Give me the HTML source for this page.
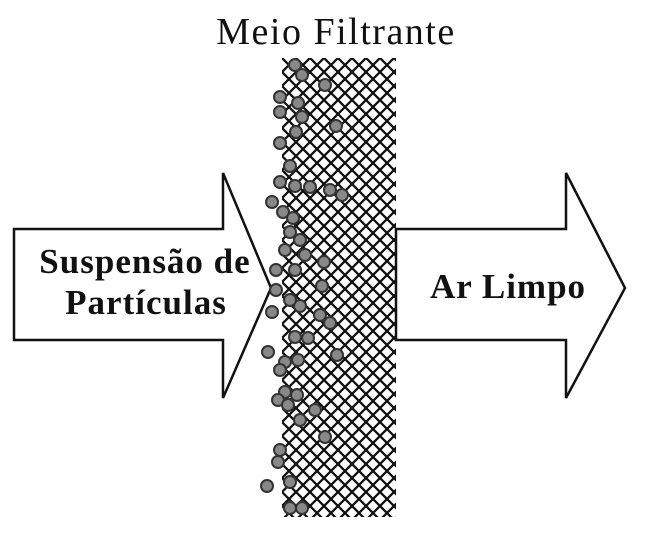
<!DOCTYPE html>
<html><head><meta charset="utf-8"><style>
html,body{margin:0;padding:0;background:#fff;}
svg{display:block;}
</style></head><body>
<svg width="646" height="536" viewBox="0 0 646 536" xmlns="http://www.w3.org/2000/svg">
<defs>
<pattern id="mesh" width="14" height="14" patternUnits="userSpaceOnUse" x="282" y="58">
<path d="M-2,2 L2,-2 M0,14 L14,0 M12,16 L16,12 M-2,12 L2,16 M0,0 L14,14 M12,-2 L16,2" stroke="#111" stroke-width="2.3"/>
</pattern>
</defs>
<rect width="646" height="536" fill="#fff"/>
<text x="336" y="44" text-anchor="middle" font-family="Liberation Serif, serif" font-size="38" letter-spacing="1.5" fill="#111">Meio Filtrante</text>
<polygon points="14,229 223,229 223,173 271,288 223,398 223,340 14,340" fill="#fff" stroke="#111" stroke-width="2.5"/>
<polygon points="396,229 566,229 566,173 625,288 566,398 566,340 396,340" fill="#fff" stroke="#111" stroke-width="2.5"/>
<rect x="282" y="58" width="114" height="459" fill="url(#mesh)"/>
<g fill="#888" stroke="#333" stroke-width="2">
<circle cx="295" cy="65" r="6"/><circle cx="302" cy="75" r="6"/><circle cx="325" cy="85" r="6"/>
<circle cx="280" cy="97" r="6"/><circle cx="298" cy="103" r="6"/><circle cx="280" cy="112" r="6"/>
<circle cx="302" cy="117" r="6"/><circle cx="336" cy="126" r="6"/><circle cx="296" cy="132" r="6"/>
<circle cx="280" cy="143" r="6"/><circle cx="290" cy="166" r="6"/><circle cx="280" cy="182" r="6"/>
<circle cx="295" cy="186" r="6"/><circle cx="310" cy="187" r="6"/><circle cx="330" cy="190" r="6"/>
<circle cx="342" cy="195" r="6"/><circle cx="272" cy="202" r="6"/><circle cx="283" cy="212" r="6"/>
<circle cx="293" cy="218" r="6"/><circle cx="290" cy="232" r="6"/><circle cx="300" cy="240" r="6"/>
<circle cx="285" cy="250" r="6"/><circle cx="305" cy="255" r="6"/><circle cx="324" cy="262" r="6"/>
<circle cx="295" cy="270" r="6"/><circle cx="276" cy="270" r="6"/><circle cx="322" cy="286" r="6"/>
<circle cx="276" cy="290" r="6"/><circle cx="300" cy="306" r="6"/><circle cx="290" cy="300" r="6"/>
<circle cx="320" cy="315" r="6"/><circle cx="330" cy="323" r="6"/><circle cx="272" cy="312" r="6"/>
<circle cx="295" cy="337" r="6"/><circle cx="308" cy="338" r="6"/><circle cx="337" cy="355" r="6"/>
<circle cx="268" cy="352" r="6"/><circle cx="285" cy="362" r="6"/><circle cx="298" cy="360" r="6"/>
<circle cx="280" cy="370" r="6"/><circle cx="285" cy="392" r="6"/><circle cx="297" cy="395" r="6"/>
<circle cx="278" cy="400" r="6"/><circle cx="288" cy="405" r="6"/><circle cx="315" cy="410" r="6"/>
<circle cx="300" cy="420" r="6"/><circle cx="325" cy="437" r="6"/><circle cx="280" cy="450" r="6"/>
<circle cx="278" cy="462" r="6"/><circle cx="267" cy="486" r="6"/><circle cx="290" cy="482" r="6"/>
<circle cx="290" cy="508" r="6"/><circle cx="302" cy="508" r="6"/>
</g>
<g font-family="Liberation Serif, serif" font-weight="bold" font-size="35" letter-spacing="1" fill="#111">
<text x="145" y="273" text-anchor="middle">Suspensão de</text>
<text x="146" y="314" text-anchor="middle">Partículas</text>
<text x="508" y="298" text-anchor="middle">Ar Limpo</text>
</g>
</svg>
</body></html>
